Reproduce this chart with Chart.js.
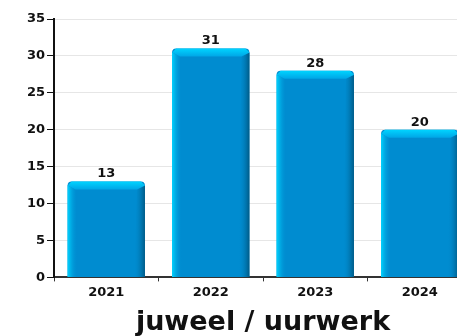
<!DOCTYPE html>
<html>
<head>
<meta charset="utf-8">
<script src="https://cdn.jsdelivr.net/npm/chart.js@4"></script>
<style>
  html, body { margin: 0; padding: 0; background: #fff; overflow: hidden; }
  #wrap { width: 526px; height: 336px; }
</style>
</head>
<body>
<div id="wrap"><canvas id="chart-jewel"></canvas></div>
<script>
var years = ['2021', '2022', '2023', '2024'];
var counts = [13, 31, 28, 20];
var yTicks = [0, 5, 10, 15, 20, 25, 30, 35];

// draws the bevelled "3d" look on top of each bar plus the value label
var bevelBars = {
    id: 'bevelBars',
    afterDatasetsDraw: function(chart) {
        var ctx = chart.ctx;
        var meta = chart.getDatasetMeta(0);
        meta.data.forEach(function(bar, i) {
            var l = bar.x - bar.width / 2, r = bar.x + bar.width / 2;
            var t = bar.y, b = bar.base, e = 8;
            ctx.save();
            var g = ctx.createLinearGradient(l, 0, l + e + 2, 0);
            g.addColorStop(0, '#00d4ff');
            g.addColorStop(1, 'rgba(0,140,208,0)');
            ctx.fillStyle = g;
            ctx.beginPath();
            ctx.moveTo(l, t + 4); ctx.lineTo(l + e, t + e); ctx.lineTo(l + e + 2, b); ctx.lineTo(l, b);
            ctx.closePath(); ctx.fill();
            g = ctx.createLinearGradient(r - e - 3, 0, r, 0);
            g.addColorStop(0, 'rgba(0,140,208,0)');
            g.addColorStop(1, '#005a86');
            ctx.fillStyle = g;
            ctx.beginPath();
            ctx.moveTo(r, t + 4); ctx.lineTo(r - e, t + e); ctx.lineTo(r - e - 3, b); ctx.lineTo(r, b);
            ctx.closePath(); ctx.fill();
            g = ctx.createLinearGradient(0, t, 0, t + e);
            g.addColorStop(0, '#00d4ff');
            g.addColorStop(1, '#00a6e6');
            ctx.fillStyle = g;
            ctx.beginPath();
            ctx.moveTo(l + 4, t); ctx.lineTo(r - 4, t); ctx.lineTo(r, t + 4);
            ctx.lineTo(r - e, t + e); ctx.lineTo(l + e, t + e); ctx.lineTo(l, t + 4);
            ctx.closePath(); ctx.fill();
            ctx.fillStyle = '#111';
            ctx.font = 'bold 13px "DejaVu Sans"';
            ctx.textAlign = 'center';
            ctx.textBaseline = 'bottom';
            ctx.fillText(counts[i], bar.x, t - 1);
            ctx.restore();
        });
    }
};

var config = {
    type: 'bar',
    data: {
        labels: years,
        datasets: [{
            data: counts,
            backgroundColor: '#008cd0',
            borderRadius: { topLeft: 4, topRight: 4 },
            borderSkipped: 'bottom',
            categoryPercentage: 1,
            barPercentage: 0.74
        }]
    },
    options: {
        responsive: false,
        animation: false,
        layout: { padding: { top: 19, right: 54, left: 0, bottom: 0 } },
        plugins: {
            legend: { display: false },
            tooltip: { enabled: false }
        },
        scales: {
            x: {
                grid: { display: true, drawOnChartArea: false, tickLength: 4, color: '#333' },
                border: { color: '#333', width: 2 },
                ticks: { color: '#111', font: { family: 'DejaVu Sans', size: 13, weight: 'bold' }, padding: 3 },
                title: {
                    display: true,
                    text: 'juweel / uurwerk',
                    color: '#111',
                    font: { family: 'DejaVu Sans', size: 27, weight: 'bold', lineHeight: 1 },
                    padding: { top: 6, bottom: 0 }
                }
            },
            y: {
                min: 0, max: 35,
                afterBuildTicks: function(s) { s.ticks = yTicks.map(function(v) { return { value: v }; }); },
                afterFit: function(s) { s.width = 54; },
                grid: { color: '#e6e6e6', tickLength: 7, tickColor: '#111' },
                border: { color: '#111', width: 2 },
                ticks: { color: '#111', font: { family: 'DejaVu Sans', size: 13, weight: 'bold' }, padding: 2 }
            }
        }
    },
    plugins: [bevelBars]
};

var canvas = document.getElementById('chart-jewel');
canvas.width = 526; canvas.height = 336;
new Chart(canvas.getContext('2d'), config);
</script>
</body>
</html>
